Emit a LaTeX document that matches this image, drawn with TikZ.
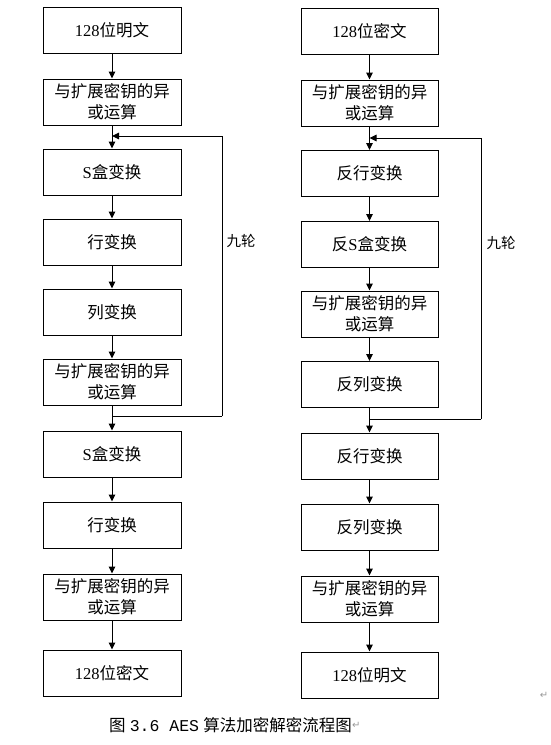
\documentclass[tikz,border=0pt]{standalone}
\usepackage{fontspec}
\setmainfont{Liberation Serif}
\newfontfamily\cjk{Noto Sans CJK SC}
\newfontfamily\mono{Liberation Mono}
\newfontfamily\symb{DejaVu Sans}
\usetikzlibrary{arrows.meta}

\tikzset{
  stepbox/.style={draw, line width=1pt, minimum width=138pt, minimum height=46pt,
    inner sep=0pt, align=center, font=\fontsize{16.5}{21}\selectfont\cjk},
  flow/.style={line width=1pt, -{Triangle[length=7pt,width=6.5pt]}},
  loopline/.style={line width=1pt},
}

\begin{document}
\begin{tikzpicture}[x=1pt,y=-1pt]

\useasboundingbox (0,0) rectangle (551,745);

% encryption
\node[stepbox] (l1) at (112,30.5) {{\rmfamily 128}位明文};
\node[stepbox] (l2) at (112,102) {与扩展密钥的异\\或运算};
\node[stepbox] (l3) at (112,172) {{\rmfamily S}盒变换};
\node[stepbox] (l4) at (112,242) {行变换};
\node[stepbox] (l5) at (112,312) {列变换};
\node[stepbox] (l6) at (112,382) {与扩展密钥的异\\或运算};
\node[stepbox] (l7) at (112,454) {{\rmfamily S}盒变换};
\node[stepbox] (l8) at (112,525) {行变换};
\node[stepbox] (l9) at (112,597) {与扩展密钥的异\\或运算};
\node[stepbox] (l10) at (112,673) {{\rmfamily 128}位密文};

\draw[flow] (l1) -- (l2);
\draw[flow] (l2) -- (l3);
\draw[flow] (l3) -- (l4);
\draw[flow] (l4) -- (l5);
\draw[flow] (l5) -- (l6);
\draw[flow] (l6) -- (l7);
\draw[flow] (l7) -- (l8);
\draw[flow] (l8) -- (l9);
\draw[flow] (l9) -- (l10);

\coordinate (lsplit) at (112,416);
\coordinate (lright) at (222,416);
\coordinate (ljoin) at (112,136);
\draw[loopline] (lsplit) -- (lright);
\draw[flow] (lright) |- (ljoin);
\node[font=\fontsize{14.5}{14.5}\selectfont\cjk] (lnine) at (241,241) {九轮};

% decryption
\node[stepbox, minimum width=137pt] (r1) at (369.5,31) {{\rmfamily 128}位密文};
\node[stepbox, minimum width=137pt] (r2) at (369.5,103) {与扩展密钥的异\\或运算};
\node[stepbox, minimum width=137pt] (r3) at (369.5,173.5) {反行变换};
\node[stepbox, minimum width=137pt] (r4) at (369.5,244.5) {反{\rmfamily S}盒变换};
\node[stepbox, minimum width=137pt] (r5) at (369.5,314) {与扩展密钥的异\\或运算};
\node[stepbox, minimum width=137pt] (r6) at (369.5,384.5) {反列变换};
\node[stepbox, minimum width=137pt] (r7) at (369.5,456) {反行变换};
\node[stepbox, minimum width=137pt] (r8) at (369.5,527) {反列变换};
\node[stepbox, minimum width=137pt] (r9) at (369.5,599) {与扩展密钥的异\\或运算};
\node[stepbox, minimum width=137pt] (r10) at (369.5,675) {{\rmfamily 128}位明文};

\draw[flow] (r1) -- (r2);
\draw[flow] (r2) -- (r3);
\draw[flow] (r3) -- (r4);
\draw[flow] (r4) -- (r5);
\draw[flow] (r5) -- (r6);
\draw[flow] (r6) -- (r7);
\draw[flow] (r7) -- (r8);
\draw[flow] (r8) -- (r9);
\draw[flow] (r9) -- (r10);

\coordinate (rsplit) at (369.5,419);
\coordinate (rright) at (481,419);
\coordinate (rjoin) at (369.5,138);
\draw[loopline] (rsplit) -- (rright);
\draw[flow] (rright) |- (rjoin);
\node[font=\fontsize{14.5}{14.5}\selectfont\cjk] (rnine) at (501,243) {九轮};

% caption
\node[anchor=west, inner sep=0pt, font=\fontsize{16.5}{16.5}\selectfont] (cap) at (109,725)
  {{\cjk 图} {\mono 3.6 AES} {\cjk 算法加密解密流程图}};
\node[anchor=west, inner sep=0pt, text=black!40, font=\fontsize{10}{10}\selectfont\symb] (capmark) at (cap.east) {↵};
\node[text=black!40, inner sep=0pt, font=\fontsize{10}{10}\selectfont\symb] (endmark) at (544,695) {↵};

\end{tikzpicture}
\end{document}
